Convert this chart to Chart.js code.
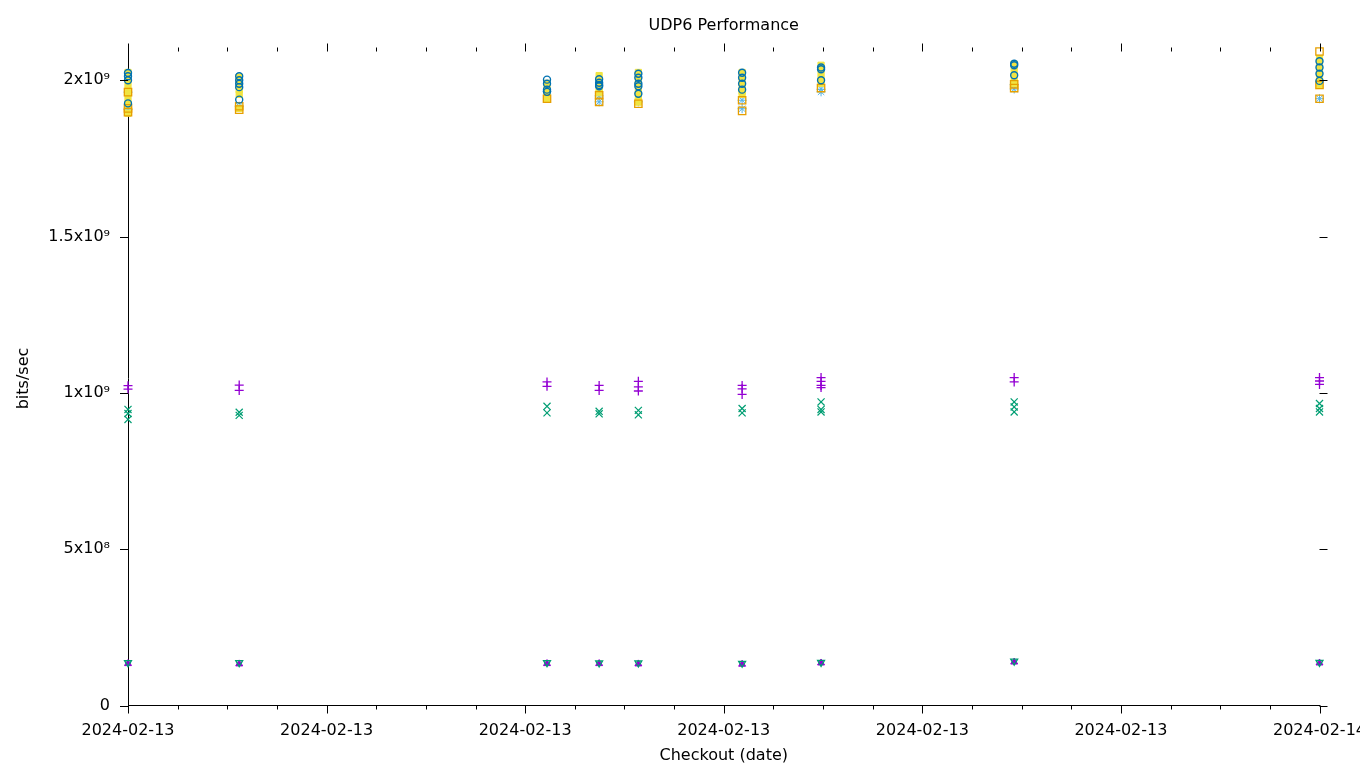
<!DOCTYPE html>
<html>
<head>
<meta charset="utf-8">
<script src="https://cdn.jsdelivr.net/npm/chart.js@4/dist/chart.umd.min.js"></script>
<style>
html,body{margin:0;padding:0;background:#ffffff;}
#wrap{width:1360px;height:768px;position:relative;}
</style>
</head>
<body>
<div id="wrap"><canvas id="c" width="1360" height="768"></canvas></div>
<script>
// Checkout times, hours after 2024-02-13 00:00
const checkoutHours = [0, 2.24, 8.44, 9.49, 10.28, 12.37, 13.96, 17.85, 24];

// X tick labels (every 4 hours)
const xTickHours = [0, 4, 8, 12, 16, 20, 24];
const xTickLabels = ['2024-02-13', '2024-02-13', '2024-02-13', '2024-02-13', '2024-02-13', '2024-02-13', '2024-02-14'];

// Y tick labels
const yTickValues = [0, 5e8, 1e9, 1.5e9, 2e9];
const yTickLabels = ['0', '5x10\u2078', '1x10\u2079', '1.5x10\u2079', '2x10\u2079'];

// Series values (units of 1e9 bits/sec), one list of runs per checkout
const purplePlus = [
  [1.023, 1.012], [1.025, 1.008], [1.035, 1.021], [1.024, 1.008], [1.037, 1.019, 1.006],
  [1.024, 1.013, 0.995], [1.049, 1.037, 1.024, 1.017], [1.049, 1.035], [1.049, 1.038, 1.027]
];
const greenX = [
  [0.947, 0.934, 0.915], [0.938, 0.928], [0.957, 0.936], [0.941, 0.933], [0.944, 0.930],
  [0.950, 0.936], [0.971, 0.947, 0.939], [0.971, 0.955, 0.939], [0.966, 0.950, 0.939]
];
const lightBlueStar = [
  [1.962, 1.907], [1.917], [1.965], [1.950, 1.931], [1.931],
  [1.936, 1.909], [1.971, 1.963], [1.986, 1.972], [1.941]
];
const orangeSquare = [
  [1.962, 1.910, 1.898], [1.917, 1.906], [1.941], [1.952, 1.931], [1.925],
  [1.936, 1.902], [1.975], [1.987, 1.975], [2.092, 1.941, 1.985]
];
const yellowSquare = [
  [2.025, 2.000, 1.980, 1.960, 1.940, 1.920, 1.895], [2.010, 1.990, 1.970, 1.955, 1.910],
  [1.990, 1.970, 1.950, 1.940], [2.015, 1.995, 1.975, 1.960],
  [2.025, 2.005, 1.985, 1.965, 1.945, 1.930], [2.025, 2.005, 1.985, 1.965, 1.955],
  [2.048, 2.030, 2.010, 1.990], [2.052, 2.035, 2.015, 1.995, 1.990],
  [2.070, 2.050, 2.030, 2.010, 1.990, 1.985]
];
const blueCircle = [
  [2.023, 2.013, 2.000, 1.926], [2.013, 2.000, 1.989, 1.978, 1.938], [2.002, 1.989, 1.970, 1.963],
  [2.003, 1.992, 1.985, 1.981], [2.021, 2.008, 1.989, 1.981, 1.957], [2.024, 2.008, 1.989, 1.970],
  [2.041, 2.035, 2.000], [2.053, 2.048, 2.016], [2.061, 2.041, 2.021, 1.998]
];
const purpleTriangle = [
  [0.134], [0.133], [0.134], [0.134], [0.133], [0.132], [0.136], [0.139], [0.136]
];
const greenTriangleDown = [
  [0.137], [0.137], [0.137], [0.136], [0.136], [0.135], [0.138], [0.142], [0.138]
];

function toPoints(runs) {
  const pts = [];
  runs.forEach((vals, i) => vals.forEach(v => pts.push({x: checkoutHours[i], y: v * 1e9})));
  return pts;
}

function ds(label, runs, style, color, fill, radius, order, width, rotation) {
  return {
    label: label,
    data: toPoints(runs),
    pointStyle: style,
    pointRadius: radius,
    pointHoverRadius: radius,
    pointBorderWidth: width,
    pointRotation: rotation || 0,
    borderColor: color,
    backgroundColor: fill,
    showLine: false,
    clip: false,
    order: order
  };
}

const datasets = [
  ds('udp6 stream 1', purplePlus, 'cross', '#9400d3', '#9400d3', 4.5, 9, 1.3),
  ds('udp6 stream 2', greenX, 'crossRot', '#009e73', '#009e73', 5, 8, 1.2),
  ds('udp6 stream 3', lightBlueStar, 'star', '#56b4e9', '#56b4e9', 4.5, 7, 1),
  ds('udp6 stream 4', orangeSquare, 'rect', '#e69f00', 'rgba(0,0,0,0)', 5.2, 5, 1.3),
  ds('udp6 stream 5', yellowSquare, 'rect', '#f0e442', '#f0e442', 4.4, 6, 1),
  ds('udp6 stream 6', blueCircle, 'circle', '#0072b2', 'rgba(0,0,0,0)', 3.5, 4, 1.4),
  ds('udp6 rr 1', purpleTriangle, 'triangle', '#9400d3', '#9400d3', 4, 3, 1),
  ds('udp6 rr 2', greenTriangleDown, 'triangle', '#009e73', 'rgba(0,0,0,0)', 4, 2, 1.3, 180)
];

function labelFor(values, labels, v) {
  for (let i = 0; i < values.length; i++) {
    if (Math.abs(values[i] - v) <= Math.abs(values[i]) * 1e-6 + 1e-9) return labels[i];
  }
  return '';
}

const tickMarks = {
  id: 'tickMarks',
  afterDraw(chart) {
    const {ctx, chartArea: a, scales: {x, y}} = chart;
    ctx.save();
    ctx.strokeStyle = '#000000';
    ctx.lineWidth = 1;
    ctx.beginPath();
    for (let h = 0; h <= 24; h += 1) {
      const px = Math.round(x.getPixelForValue(h)) + 0.5;
      const len = (h % 4 === 0) ? 8 : 4;
      ctx.moveTo(px, a.bottom); ctx.lineTo(px, a.bottom + len);
      ctx.moveTo(px, a.top); ctx.lineTo(px, a.top - len);
    }
    yTickValues.forEach(v => {
      const py = Math.round(y.getPixelForValue(v)) + 0.5;
      ctx.moveTo(a.left - 8, py); ctx.lineTo(a.left, py);
      ctx.moveTo(a.right, py); ctx.lineTo(a.right + 8, py);
    });
    ctx.stroke();
    ctx.restore();
  }
};

Chart.defaults.font.family = "'DejaVu Sans', sans-serif";
Chart.defaults.font.size = 16;
Chart.defaults.color = '#000000';

new Chart(document.getElementById('c'), {
  type: 'scatter',
  data: {datasets: datasets},
  options: {
    responsive: false,
    animation: false,
    devicePixelRatio: 1,
    layout: {padding: {left: 0, right: 40.5, top: 0, bottom: 0}},
    plugins: {
      legend: {display: false},
      tooltip: {enabled: false},
      title: {
        display: true,
        fullSize: false,
        text: 'UDP6 Performance',
        color: '#000000',
        font: {size: 16, weight: 'normal', family: "'DejaVu Sans', sans-serif"},
        padding: {top: 16, bottom: 16.3}
      }
    },
    scales: {
      x: {
        type: 'linear',
        min: 0,
        max: 24,
        grid: {display: true, drawOnChartArea: false, drawTicks: false},
        border: {display: true, color: '#000000', width: 1},
        ticks: {
          padding: 16,
          maxRotation: 0,
          autoSkip: false,
          callback: (v) => labelFor(xTickHours, xTickLabels, v)
        },
        afterBuildTicks: (s) => { s.ticks = xTickHours.map(v => ({value: v})); },
        title: {display: true, text: 'Checkout (date)', padding: {top: 0, bottom: 3}},
        afterFit: (s) => { s.height = 62.5; s.paddingLeft = 0; s.paddingRight = 0; }
      },
      y: {
        type: 'linear',
        min: 0,
        max: 2.092e9,
        grid: {display: true, drawOnChartArea: false, drawTicks: false},
        border: {display: true, color: '#000000', width: 1},
        ticks: {
          padding: 18,
          autoSkip: false,
          callback: (v) => labelFor(yTickValues, yTickLabels, v)
        },
        afterBuildTicks: (s) => { s.ticks = yTickValues.map(v => ({value: v})); },
        title: {display: true, text: 'bits/sec', padding: {top: 14.4, bottom: 0}},
        afterFit: (s) => { s.width = 128; s.paddingTop = 0; s.paddingBottom = 0; }
      }
    }
  },
  plugins: [tickMarks]
});
</script>
</body>
</html>
